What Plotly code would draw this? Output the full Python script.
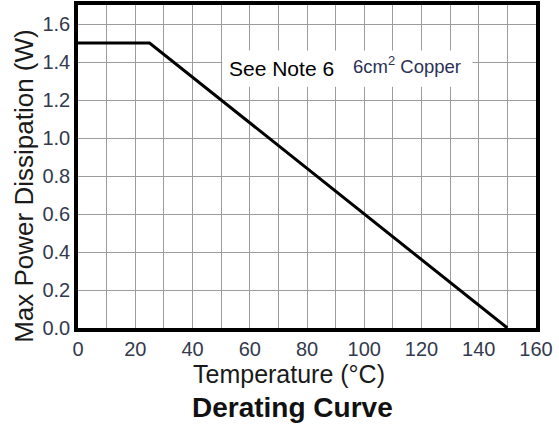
import plotly.graph_objects as go

# derating curve data (temperature in °C, max power in W)
temp_c = [0, 25, 150]
power_w = [1.5, 1.5, 0.0]

x_ticks = [0, 20, 40, 60, 80, 100, 120, 140, 160]
y_ticks = [0.0, 0.2, 0.4, 0.6, 0.8, 1.0, 1.2, 1.4, 1.6]

FONT = "Liberation Sans, Arial, sans-serif"
TICK_COLOR = "#333a4d"
GRID = "#9c9c9c"

fig = go.Figure()

fig.add_trace(go.Scatter(
    x=temp_c, y=power_w, mode="lines",
    line=dict(color="black", width=3),
    showlegend=False, hoverinfo="skip",
))

# white box behind the note text
fig.add_shape(type="rect", xref="x", yref="y",
              x0=50.4, x1=137.8, y0=1.27, y1=1.46,
              fillcolor="white", line=dict(width=0), layer="above")

fig.add_annotation(x=52, y=1.365, xref="x", yref="y", xanchor="left",
                   text="See Note 6", showarrow=False,
                   font=dict(family=FONT, size=21, color="black"))
fig.add_annotation(x=95.5, y=1.385, xref="x", yref="y", xanchor="left",
                   text="6cm<sup>2</sup> Copper", showarrow=False,
                   font=dict(family=FONT, size=18.5, color="#2c3155"))

# axis titles and the bottom caption
fig.add_annotation(x=0.461, y=-0.142, xref="paper", yref="paper",
                   xanchor="center", yanchor="middle",
                   text="Temperature (°C)", showarrow=False,
                   font=dict(family=FONT, size=25, color="#1a1a1a"))
fig.add_annotation(x=-0.118, y=0.44, xref="paper", yref="paper",
                   xanchor="center", yanchor="middle", textangle=-90,
                   text="Max Power Dissipation (W)", showarrow=False,
                   font=dict(family=FONT, size=26, color="#1a1a1a"))
fig.add_annotation(x=0.468, y=-0.245, xref="paper", yref="paper",
                   xanchor="center", yanchor="middle",
                   text="<b>Derating Curve</b>", showarrow=False,
                   font=dict(family=FONT, size=28, color="#111111"))

fig.update_xaxes(
    range=[0, 160], tickvals=x_ticks,
    showgrid=True, gridcolor=GRID, gridwidth=1.2,
    minor=dict(dtick=10, showgrid=True, gridcolor=GRID, gridwidth=1.2),
    showline=True, linecolor="black", linewidth=3.5, mirror=True,
    ticks="", zeroline=False, automargin=False,
    tickfont=dict(family=FONT, size=20, color=TICK_COLOR),
)
fig.update_yaxes(
    range=[0, 1.7], tickvals=y_ticks, tickformat=".1f",
    showgrid=True, gridcolor=GRID, gridwidth=1.2,
    showline=True, linecolor="black", linewidth=3.5, mirror=True,
    ticks="", zeroline=False, automargin=False,
    tickfont=dict(family=FONT, size=20, color=TICK_COLOR),
)

fig.update_layout(
    width=559, height=428,
    margin=dict(l=78, r=23, t=5, b=100),
    plot_bgcolor="white", paper_bgcolor="white",
    showlegend=False,
)

fig.write_html("out.html", config={"displayModeBar": False},
               post_script="document.body.style.margin='0';")
